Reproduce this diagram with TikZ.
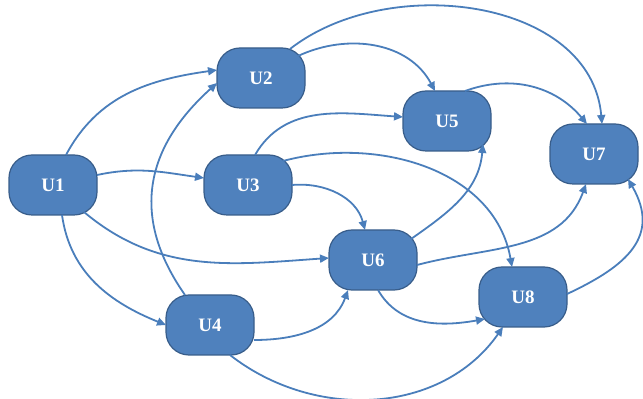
\documentclass[tikz,border=0pt]{standalone}
\usepackage{fontspec}
\setmainfont{Liberation Serif}
\usetikzlibrary{arrows.meta}
\definecolor{nodefill}{HTML}{4F81BD}
\definecolor{nodeline}{HTML}{385D8A}
\definecolor{edgecol}{HTML}{4A7EBB}
\begin{document}
\begin{tikzpicture}[x=1pt,y=1pt,
  unode/.style={draw=nodeline, fill=nodefill, line width=1.2pt, rounded corners=23pt,
    minimum width=88pt, minimum height=60pt, inner sep=0pt, text=white,
    font=\fontsize{19}{21}\selectfont\bfseries},
  edge/.style={draw=edgecol, line width=1.8pt, -{Triangle[length=9pt,width=8pt]}}]
\useasboundingbox (0,0) rectangle (643,399);
\node[unode] (U1) at (53,214) {U1};
\node[unode] (U2) at (261,321) {U2};
\node[unode] (U3) at (248,214) {U3};
\node[unode] (U4) at (210,74) {U4};
\node[unode] (U5) at (447,278) {U5};
\node[unode] (U7) at (594,245) {U7};
\node[unode] (U6) at (373,139) {U6};
\node[unode] (U8) at (523,102) {U8};
% U1 edges
\draw[edge] ([shift={(13,30)}]U1.center) to[out=62,in=188] ([shift={(-44,8)}]U2.center);
\draw[edge] ([shift={(44,10)}]U1.center) to[out=12,in=172] ([shift={(-44,7)}]U3.center);
\draw[edge] ([shift={(31,-27)}]U1.center) to[out=-40,in=184] ([shift={(-44,2)}]U6.center);
\draw[edge] ([shift={(9,-30)}]U1.center) to[out=-82,in=158] ([shift={(-44,0)}]U4.center);
% U4 edges
\draw[edge] ([shift={(-25,30)}]U4.center) to[out=125,in=222,looseness=1.15] ([shift={(-44,-5)}]U2.center);
\draw[edge] ([shift={(44,-15)}]U4.center) to[out=0,in=-110] ([shift={(-25,-30)}]U6.center);
\draw[edge] ([shift={(20,-30)}]U4.center) to[out=-38,in=-125] ([shift={(-20,-30)}]U8.center);
% U2 edges
\draw[edge] ([shift={(37,22)}]U2.center) to[out=25,in=118] ([shift={(-12,30)}]U5.center);
\draw[edge] ([shift={(29,29)}]U2.center) to[out=38,in=95] ([shift={(8,30)}]U7.center);
% U3 edges
\draw[edge] ([shift={(7,30)}]U3.center) to[out=60,in=176] ([shift={(-44,4)}]U5.center);
\draw[edge] ([shift={(44,0)}]U3.center) to[out=5,in=105] ([shift={(-8,30)}]U6.center);
\draw[edge] ([shift={(35,24)}]U3.center) to[out=15,in=100] ([shift={(-11,30)}]U8.center);
% U5, U6, U8 edges
\draw[edge] ([shift={(18,30)}]U5.center) to[out=20,in=130] ([shift={(-7,30)}]U7.center);
\draw[edge] ([shift={(38,21)}]U6.center) to[out=35,in=-95] ([shift={(36,-23)}]U5.center);
\draw[edge] ([shift={(44,-5)}]U6.center) to[out=15,in=-110] ([shift={(-8,-30)}]U7.center);
\draw[edge] ([shift={(5,-30)}]U6.center) to[out=-60,in=190] ([shift={(-38,-22)}]U8.center);
\draw[edge] ([shift={(44,3)}]U8.center) to[out=25,in=-60,looseness=1.3] ([shift={(34,-25)}]U7.center);
\end{tikzpicture}
\end{document}
